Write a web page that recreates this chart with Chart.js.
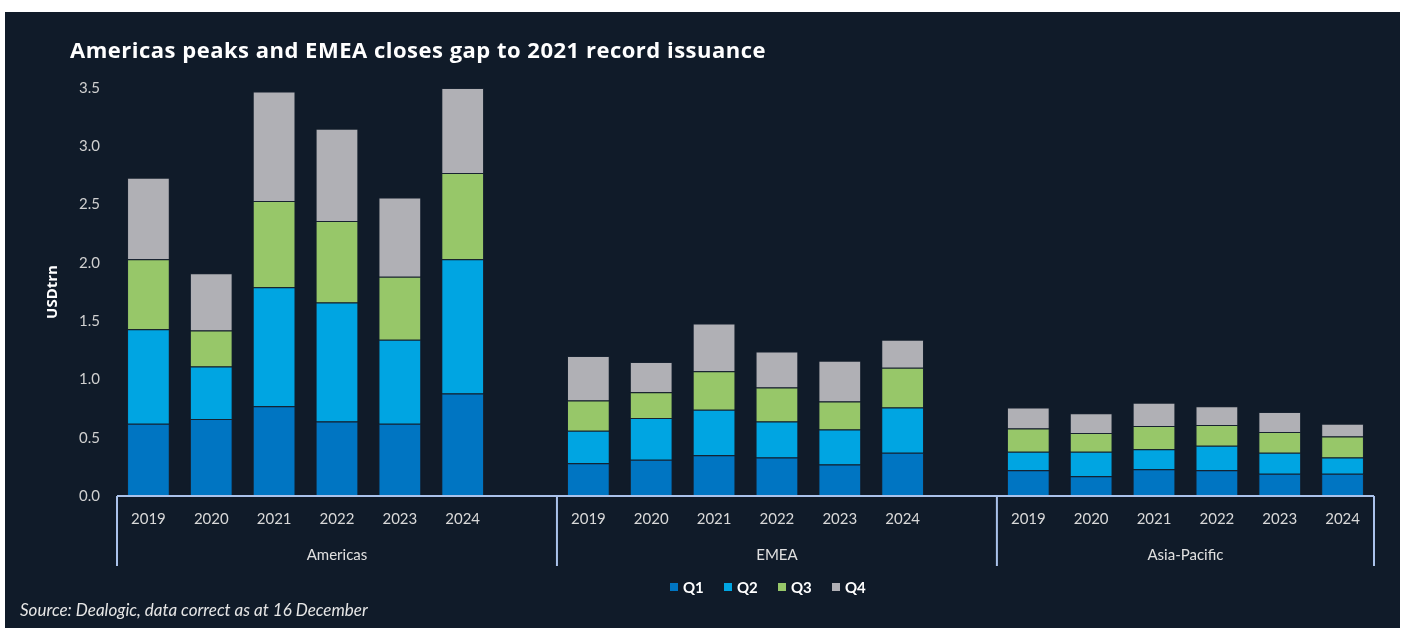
<!DOCTYPE html>
<html>
<head>
<meta charset="utf-8">
<script src="https://cdn.jsdelivr.net/npm/chart.js@4"></script>
<style>
  html, body { margin: 0; padding: 0; background: #ffffff; }
  body { width: 1405px; height: 628px; position: relative; overflow: hidden; font-family: Lato, "Open Sans", sans-serif; }
  #panel { position: absolute; left: 5px; top: 12px; width: 1395px; height: 616px; background: #101b29; }
  #chart { position: absolute; left: 0; top: 0; }
  #title { position: absolute; left: 70px; top: 34px; color: #ffffff; font-family: "Open Sans", sans-serif; font-weight: 700; font-size: 22px; letter-spacing: 0.5px; white-space: nowrap; }
  #legend { position: absolute; left: 670px; top: 578px; display: flex; color: #ffffff; font-weight: 700; font-size: 15px; }
  #legend .item { width: 54px; display: flex; align-items: center; }
  #legend .box { width: 8px; height: 8px; margin-right: 5px; }
  #source { position: absolute; left: 20px; top: 599px; color: #e6e6e6; font-style: italic; font-size: 17px; white-space: nowrap; }
</style>
</head>
<body>
<div id="panel"></div>
<canvas id="chart" width="1405" height="628"></canvas>
<div id="title">Americas peaks and EMEA closes gap to 2021 record issuance</div>
<div id="legend"></div>
<div id="source">Source: Dealogic, data correct as at 16 December</div>

<script>
// USD trillions per quarter, six years for each region (Americas, EMEA, Asia-Pacific)
const years = ['2019', '2020', '2021', '2022', '2023', '2024'];
const regions = ['Americas', 'EMEA', 'Asia-Pacific'];

const q1 = [0.62, 0.66, 0.77, 0.64, 0.62, 0.88,
            0.28, 0.31, 0.35, 0.33, 0.27, 0.37,
            0.22, 0.17, 0.23, 0.22, 0.19, 0.19];
const q2 = [0.81, 0.45, 1.02, 1.02, 0.72, 1.15,
            0.28, 0.36, 0.39, 0.31, 0.30, 0.39,
            0.16, 0.21, 0.17, 0.21, 0.18, 0.14];
const q3 = [0.60, 0.31, 0.74, 0.70, 0.54, 0.74,
            0.26, 0.22, 0.33, 0.29, 0.24, 0.34,
            0.20, 0.16, 0.20, 0.18, 0.18, 0.18];
const q4 = [0.70, 0.49, 0.94, 0.79, 0.68, 0.73,
            0.38, 0.26, 0.41, 0.31, 0.35, 0.24,
            0.18, 0.17, 0.20, 0.16, 0.17, 0.11];

const quarterNames = ['Q1', 'Q2', 'Q3', 'Q4'];
const quarterColors = ['#0075c2', '#00a5e2', '#97c769', '#b0b0b5'];
const bracketColor = '#aac2ea';

// one blank slot after each region except the last
const labels = [];
regions.forEach((r, gi) => {
  years.forEach(y => labels.push(y));
  if (gi < regions.length - 1) labels.push('');
});

function withGaps(values) {
  const out = [];
  regions.forEach((r, gi) => {
    values.slice(gi * years.length, (gi + 1) * years.length).forEach(v => out.push(v));
    if (gi < regions.length - 1) out.push(null);
  });
  return out;
}

// group brackets below the axis and region names
const regionBracketPlugin = {
  id: 'regionBracket',
  afterDraw(chart) {
    const ctx = chart.ctx;
    const x = chart.scales.x;
    const half = (x.getPixelForValue(1) - x.getPixelForValue(0)) / 2;
    const yAxis = chart.chartArea.bottom;
    const yEnd = yAxis + 70;

    // slot index where each region starts and ends
    const spans = [];
    let start = 0;
    regions.forEach((r, gi) => {
      const len = years.length + (gi < regions.length - 1 ? 1 : 0);
      spans.push([start, start + len - 1]);
      start += len;
    });

    ctx.save();
    ctx.strokeStyle = bracketColor;
    ctx.lineWidth = 2;
    ctx.beginPath();
    ctx.moveTo(x.getPixelForValue(0) - half, yAxis);
    ctx.lineTo(x.getPixelForValue(labels.length - 1) + half, yAxis);
    ctx.stroke();

    const edges = [x.getPixelForValue(0) - half];
    spans.forEach(s => edges.push(x.getPixelForValue(s[1]) + half));
    edges.forEach(px => {
      ctx.beginPath();
      ctx.moveTo(px, yAxis);
      ctx.lineTo(px, yEnd);
      ctx.stroke();
    });

    ctx.fillStyle = '#e0e0e0';
    ctx.font = '15px Lato, "Open Sans", sans-serif';
    ctx.textAlign = 'center';
    ctx.textBaseline = 'middle';
    spans.forEach((s, i) => {
      const cx = (edges[i] + edges[i + 1]) / 2;
      ctx.fillText(regions[i], cx, yAxis + 59);
    });
    ctx.restore();
  }
};

const datasets = [q1, q2, q3, q4].map((values, i) => ({
  label: quarterNames[i],
  data: withGaps(values),
  backgroundColor: quarterColors[i],
  borderColor: 'rgba(30, 40, 55, 0.55)',
  borderWidth: 1,
  barPercentage: 0.68,
  categoryPercentage: 1
}));

const chart = new Chart(document.getElementById('chart').getContext('2d'), {
  type: 'bar',
  data: { labels, datasets },
  options: {
    responsive: false,
    animation: false,
    devicePixelRatio: 1,
    layout: { padding: { top: 88, right: 31, bottom: 62, left: 0 } },
    scales: {
      x: {
        stacked: true,
        grid: { display: false, drawTicks: false },
        border: { display: false },
        ticks: {
          color: '#d9d9d9',
          font: { family: 'Lato', size: 15 },
          padding: 14,
          autoSkip: false,
          maxRotation: 0
        },
        afterFit(scale) { scale.height = 70; }
      },
      y: {
        stacked: true,
        min: 0,
        max: 3.5,
        grid: { display: false, drawTicks: false },
        border: { display: false },
        ticks: {
          stepSize: 0.5,
          color: '#d0d0d0',
          font: { family: 'Lato', size: 15 },
          padding: 17,
          callback: v => Number(v).toFixed(1)
        },
        title: {
          display: true,
          text: 'USDtrn',
          color: '#ffffff',
          font: { family: 'Open Sans', size: 15, weight: 'bold' },
          padding: { top: 44, bottom: 0 }
        },
        afterFit(scale) { scale.width = 117; }
      }
    },
    plugins: {
      legend: { display: false },
      tooltip: { enabled: false }
    }
  },
  plugins: [regionBracketPlugin]
});

// legend row built from the datasets
const legendEl = document.getElementById('legend');
chart.data.datasets.forEach(ds => {
  const item = document.createElement('div');
  item.className = 'item';
  const box = document.createElement('span');
  box.className = 'box';
  box.style.background = ds.backgroundColor;
  const txt = document.createElement('span');
  txt.textContent = ds.label;
  item.appendChild(box);
  item.appendChild(txt);
  legendEl.appendChild(item);
});
</script>
</body>
</html>
